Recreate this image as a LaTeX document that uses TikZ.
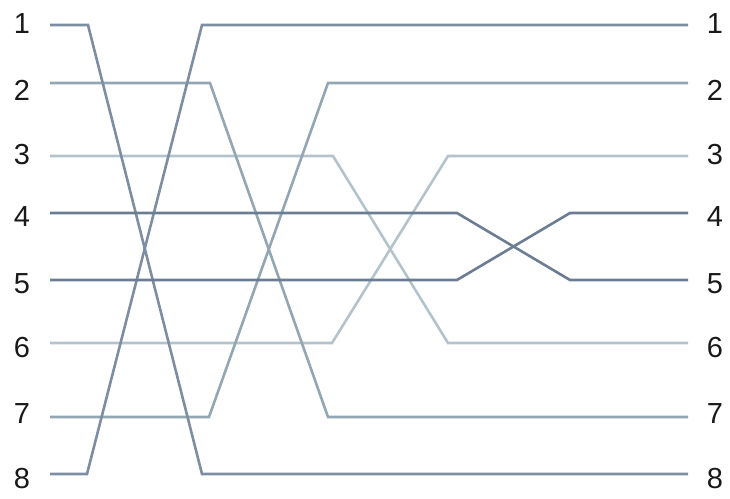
\documentclass[tikz,border=0pt]{standalone}
\usepackage{fontspec}
\setmainfont{Liberation Sans}
\definecolor{cA}{HTML}{7D8DA2}
\definecolor{cB}{HTML}{93A6B3}
\definecolor{cC}{HTML}{B4C3CB}
\definecolor{cD}{HTML}{6B7C93}
\begin{document}
\begin{tikzpicture}[x=1pt,y=-1pt,
  wire/.style={line width=2.6pt,line join=miter},
  lab/.style={font=\fontsize{29}{29}\selectfont,inner sep=0pt,text=black!90}]
\useasboundingbox (0,0) rectangle (730,498);
% row y positions
\foreach \i/\y/\ly in {1/25/24,2/83/90,3/156/155,4/213/217,5/280/284,6/343/348,7/417/414,8/474/479}{
  \coordinate (L\i) at (50,\y);
  \coordinate (R\i) at (688,\y);
  \node[lab] (ln\i) at (22,\ly) {\i};
  \node[lab] (rn\i) at (715,\ly) {\i};
}
\draw[wire,cC] (L3) -- (333,156) -- (448,343) -- (R6);
\draw[wire,cC] (L6) -- (332,343) -- (448,156) -- (R3);
\draw[wire,cB] (L2) -- (210,83) -- (328,417) -- (R7);
\draw[wire,cB] (L7) -- (209,417) -- (328,83) -- (R2);
\draw[wire,cA] (L1) -- (88,25) -- (202,474) -- (R8);
\draw[wire,cA] (L8) -- (87,474) -- (202,25) -- (R1);
\draw[wire,cD] (L4) -- (457,213) -- (570,280) -- (R5);
\draw[wire,cD] (L5) -- (457,280) -- (570,213) -- (R4);
\end{tikzpicture}
\end{document}
